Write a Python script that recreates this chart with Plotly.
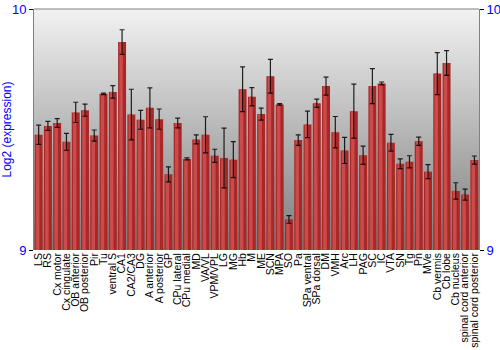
import base64
import plotly.graph_objects as go

regions = ["LS", "RS", "Cx motor", "Cx cingulate", "OB anterior", "OB posterior", "Pir", "Tu",
           "ventral S", "CA1", "CA2/CA3", "DG", "A anterior", "A posterior", "GP", "CPu lateral",
           "CPu medial", "MD", "VA/VL", "VPM/VPL", "LG", "MG", "Hb", "M", "ME", "SCN", "MPA", "SO",
           "Pa", "SPa ventral", "SPa dorsal", "DM", "VMH", "Arc", "LH", "PAG", "SC", "IC", "VTA",
           "SN", "Tg", "Pn", "MVe", "Cb vermis", "Cb lobe", "Cb nucleus", "spinal cord anterior",
           "spinal cord posterior"]

expression = [9.478, 9.515, 9.527, 9.449, 9.571, 9.580, 9.475, 9.648,
              9.656, 9.863, 9.562, 9.540, 9.590, 9.543, 9.314, 9.527,
              9.378, 9.459, 9.478, 9.391, 9.382, 9.375, 9.667, 9.636, 9.564, 9.721, 9.604, 9.127,
              9.456, 9.521, 9.609, 9.680, 9.489, 9.413, 9.576, 9.393, 9.680, 9.691, 9.445,
              9.358, 9.366, 9.451, 9.325, 9.732, 9.776, 9.245, 9.230,
              9.373]

error = [0.040, 0.019, 0.018, 0.035, 0.042, 0.025, 0.023, 0.003,
         0.026, 0.051, 0.105, 0.039, 0.083, 0.042, 0.031, 0.020,
         0.004, 0.019, 0.075, 0.027, 0.124, 0.075, 0.093, 0.038, 0.025, 0.070, 0.003, 0.016,
         0.022, 0.055, 0.017, 0.037, 0.065, 0.054, 0.112, 0.038, 0.073, 0.006, 0.035,
         0.020, 0.025, 0.017, 0.029, 0.087, 0.051, 0.034, 0.023,
         0.017]

y_ticks = [9, 10]

svg = ('<svg xmlns="http://www.w3.org/2000/svg" width="10" height="100" preserveAspectRatio="none">'
       '<defs><linearGradient id="g" x1="0" y1="0" x2="0" y2="1">'
       '<stop offset="0" stop-color="#f2f2f2"/><stop offset="1" stop-color="#7c7c7c"/>'
       '</linearGradient></defs><rect width="10" height="100" fill="url(#g)"/></svg>')
bg_uri = "data:image/svg+xml;base64," + base64.b64encode(svg.encode()).decode()

base_val = 9
fig = go.Figure()
# main bar body
fig.add_trace(go.Bar(
    x=regions, y=[v - base_val for v in expression], base=base_val,
    marker=dict(color="#a82828", line=dict(width=0)),
    width=0.86, showlegend=False, hoverinfo="skip"))
# highlight strip
fig.add_trace(go.Bar(
    x=regions, y=[v - base_val for v in expression], base=base_val,
    marker=dict(color="#cc4a4a", line=dict(width=0)),
    width=0.38, offset=-0.30, showlegend=False, hoverinfo="skip"))
# error bars (invisible markers)
fig.add_trace(go.Scatter(
    x=regions, y=expression, mode="markers",
    marker=dict(size=1, color="rgba(0,0,0,0)"),
    error_y=dict(type="data", array=error, color="rgba(0,0,0,0.85)", thickness=1.2, width=2.5),
    showlegend=False, hoverinfo="skip"))
fig.add_trace(go.Scatter(x=[regions[0]], y=[None], yaxis="y2", showlegend=False, hoverinfo="skip"))

fig.update_layout(
    width=500, height=350,
    margin=dict(l=34, r=21, t=9, b=100),
    paper_bgcolor="white", plot_bgcolor="rgba(0,0,0,0)",
    barmode="overlay", bargap=0.1,
    font=dict(family="Liberation Sans, Arial, sans-serif", size=10.5, color="black"),
    xaxis=dict(tickangle=-90, tickfont=dict(size=10.5, color="black"), showgrid=False,
               tickmode="array", tickvals=regions, ticktext=regions, automargin=False,
               ticks="", showline=False, zeroline=False, range=[-0.5, len(regions) - 0.5]),
    yaxis=dict(range=[9, 10], tickvals=y_ticks, ticktext=[str(t) for t in y_ticks],
               tickfont=dict(size=13, color="blue"), showgrid=False, zeroline=False,
               automargin=False,
               showline=True, linecolor="#808080", linewidth=1, ticks="outside", ticklen=4,
               tickcolor="black",
               title=dict(text="Log2 (expression)", font=dict(size=12, color="blue"), standoff=4)),
    yaxis2=dict(range=[9, 10], tickvals=y_ticks, ticktext=[str(t) for t in y_ticks],
                overlaying="y", side="right", automargin=False,
                tickfont=dict(size=13, color="blue"), showgrid=False, zeroline=False,
                showline=True, linecolor="#808080", linewidth=1, ticks="outside", ticklen=4,
                tickcolor="black"),
    images=[dict(source=bg_uri, xref="paper", yref="paper", x=0, y=1, sizex=1, sizey=1,
                 sizing="stretch", layer="below", xanchor="left", yanchor="top")],
    shapes=[dict(type="line", xref="paper", yref="paper", x0=0, x1=1, y0=1, y1=1,
                 line=dict(color="#808080", width=1))],
)

fig.write_html("out.html")
